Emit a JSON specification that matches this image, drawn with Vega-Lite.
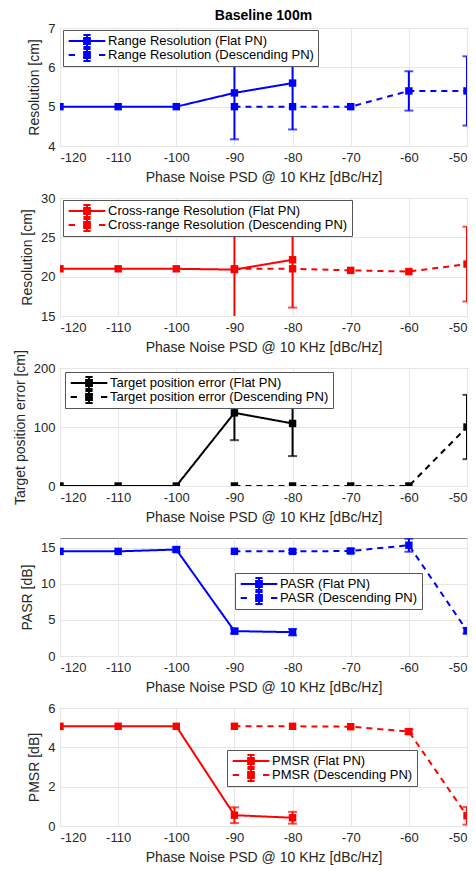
{
  "$schema": "https://vega.github.io/schema/vega-lite/v6.json",
  "padding": {"left": 12, "top": 8, "right": 5, "bottom": 5},
  "title": {"text": "Baseline 100m", "fontSize": 14, "fontWeight": "bold", "font": "Liberation Sans", "color": "#000000", "anchor": "middle", "frame": "group", "offset": -1},
  "config": {
    "view": {"stroke": "#808080", "strokeWidth": 1},
    "axis": {"grid": true, "gridColor": "#e6e6e6", "domain": false, "ticks": false, "labelFont": "Liberation Sans", "labelFontSize": 13, "labelColor": "#262626", "labelPadding": 5, "titleFont": "Liberation Sans", "titleFontSize": 14, "titleFontWeight": "normal", "titleColor": "#262626", "titlePadding": 6},
    "legend": {"title": null, "fillColor": "#ffffff", "strokeColor": "#555555", "padding": 4, "rowPadding": 0, "clipHeight": 14, "symbolSize": 144, "symbolOffset": 13, "labelOffset": 14, "labelFont": "Liberation Sans", "labelFontSize": 13, "labelColor": "#000000", "labelLimit": 400, "symbolOpacity": 1, "symbolStrokeWidth": 2}
  },
  "datasets": {
    "d": [
      {"p": 1, "s": "Flat", "x": -120, "y": 5, "lo": 5, "hi": 5},
      {"p": 1, "s": "Flat", "x": -110, "y": 5, "lo": 5, "hi": 5},
      {"p": 1, "s": "Flat", "x": -100, "y": 5, "lo": 5, "hi": 5},
      {"p": 1, "s": "Flat", "x": -90, "y": 5.35, "lo": 4.17, "hi": 6.53},
      {"p": 1, "s": "Flat", "x": -80, "y": 5.6, "lo": 4.42, "hi": 6.78},
      {"p": 1, "s": "Desc", "x": -90, "y": 5, "lo": 5, "hi": 5},
      {"p": 1, "s": "Desc", "x": -80, "y": 5, "lo": 5, "hi": 5},
      {"p": 1, "s": "Desc", "x": -70, "y": 5, "lo": 5, "hi": 5},
      {"p": 1, "s": "Desc", "x": -60, "y": 5.4, "lo": 4.9, "hi": 5.9},
      {"p": 1, "s": "Desc", "x": -50, "y": 5.4, "lo": 4.52, "hi": 6.28},
      {"p": 2, "s": "Flat", "x": -120, "y": 21, "lo": 21, "hi": 21},
      {"p": 2, "s": "Flat", "x": -110, "y": 21, "lo": 21, "hi": 21},
      {"p": 2, "s": "Flat", "x": -100, "y": 21, "lo": 21, "hi": 21},
      {"p": 2, "s": "Flat", "x": -90, "y": 20.9, "lo": 14.87, "hi": 26.93},
      {"p": 2, "s": "Flat", "x": -80, "y": 22.15, "lo": 16.07, "hi": 28.2},
      {"p": 2, "s": "Desc", "x": -90, "y": 21, "lo": 21, "hi": 21},
      {"p": 2, "s": "Desc", "x": -80, "y": 21, "lo": 21, "hi": 21},
      {"p": 2, "s": "Desc", "x": -70, "y": 20.8, "lo": 20.8, "hi": 20.8},
      {"p": 2, "s": "Desc", "x": -60, "y": 20.65, "lo": 20.65, "hi": 20.65},
      {"p": 2, "s": "Desc", "x": -50, "y": 21.6, "lo": 16.85, "hi": 26.35},
      {"p": 3, "s": "Flat", "x": -120, "y": 0, "lo": 0, "hi": 0},
      {"p": 3, "s": "Flat", "x": -110, "y": 0, "lo": 0, "hi": 0},
      {"p": 3, "s": "Flat", "x": -100, "y": 0, "lo": 0, "hi": 0},
      {"p": 3, "s": "Flat", "x": -90, "y": 124, "lo": 77.7, "hi": 170.3},
      {"p": 3, "s": "Flat", "x": -80, "y": 106, "lo": 50.7, "hi": 161.3},
      {"p": 3, "s": "Desc", "x": -90, "y": 0, "lo": 0, "hi": 0},
      {"p": 3, "s": "Desc", "x": -80, "y": 0, "lo": 0, "hi": 0},
      {"p": 3, "s": "Desc", "x": -70, "y": 0, "lo": 0, "hi": 0},
      {"p": 3, "s": "Desc", "x": -60, "y": 0, "lo": 0, "hi": 0},
      {"p": 3, "s": "Desc", "x": -50, "y": 100, "lo": 45.5, "hi": 154.5},
      {"p": 4, "s": "Flat", "x": -120, "y": 14.5, "lo": 14.5, "hi": 14.5},
      {"p": 4, "s": "Flat", "x": -110, "y": 14.5, "lo": 14.5, "hi": 14.5},
      {"p": 4, "s": "Flat", "x": -100, "y": 14.75, "lo": 14.45, "hi": 15.05},
      {"p": 4, "s": "Flat", "x": -90, "y": 3.45, "lo": 3.1, "hi": 3.8},
      {"p": 4, "s": "Flat", "x": -80, "y": 3.3, "lo": 2.85, "hi": 3.75},
      {"p": 4, "s": "Desc", "x": -90, "y": 14.5, "lo": 14.5, "hi": 14.5},
      {"p": 4, "s": "Desc", "x": -80, "y": 14.5, "lo": 14.3, "hi": 14.7},
      {"p": 4, "s": "Desc", "x": -70, "y": 14.55, "lo": 14.25, "hi": 14.85},
      {"p": 4, "s": "Desc", "x": -60, "y": 15.35, "lo": 14.45, "hi": 16.25},
      {"p": 4, "s": "Desc", "x": -50, "y": 3.5, "lo": 3.1, "hi": 3.9},
      {"p": 5, "s": "Flat", "x": -120, "y": 5.07, "lo": 5.07, "hi": 5.07},
      {"p": 5, "s": "Flat", "x": -110, "y": 5.07, "lo": 5.07, "hi": 5.07},
      {"p": 5, "s": "Flat", "x": -100, "y": 5.07, "lo": 5.07, "hi": 5.07},
      {"p": 5, "s": "Flat", "x": -90, "y": 0.55, "lo": 0.15, "hi": 0.95},
      {"p": 5, "s": "Flat", "x": -80, "y": 0.42, "lo": 0.12, "hi": 0.72},
      {"p": 5, "s": "Desc", "x": -90, "y": 5.07, "lo": 5.07, "hi": 5.07},
      {"p": 5, "s": "Desc", "x": -80, "y": 5.07, "lo": 5.07, "hi": 5.07},
      {"p": 5, "s": "Desc", "x": -70, "y": 5.05, "lo": 5.05, "hi": 5.05},
      {"p": 5, "s": "Desc", "x": -60, "y": 4.8, "lo": 4.68, "hi": 4.92},
      {"p": 5, "s": "Desc", "x": -50, "y": 0.52, "lo": 0.07, "hi": 0.97}
    ]
  },
  "spacing": 52,
  "bounds": "flush",
  "resolve": {"scale": {"shape": "independent", "strokeDash": "independent"}, "legend": {"shape": "independent", "strokeDash": "independent"}},
  "vconcat": [
    {
      "width": 407, "height": 118,
      "data": {"name": "d"},
      "transform": [{"filter": "datum.p == 1"}],
      "encoding": {
        "x": {"field": "x", "type": "quantitative", "title": "Phase Noise PSD @ 10 KHz [dBc/Hz]", "scale": {"domain": [-120, -50], "nice": false}, "axis": {"values": [-120, -110, -100, -90, -80, -70, -60, -50], "labelExpr": "'' + datum.value"}},
        "y": {"field": "y", "type": "quantitative", "title": "Resolution [cm]", "scale": {"domain": [4, 7], "nice": false, "zero": false}, "axis": {"values": [4, 5, 6, 7]}}
      },
      "layer": [
        {"mark": {"type": "line", "strokeWidth": 2, "color": "#0000ff", "clip": true},
         "encoding": {"strokeDash": {"field": "s", "type": "nominal", "scale": {"domain": ["Desc", "Flat"], "range": [[6, 5], [1, 0]]}, "legend": null}}},
        {"transform": [{"filter": "datum.hi > datum.lo"}],
         "mark": {"type": "errorbar", "ticks": {"size": 9}, "thickness": 2, "color": "#0000ff", "clip": true},
         "encoding": {"y": {"field": "lo", "type": "quantitative", "title": "Resolution [cm]", "scale": {"domain": [4, 7], "nice": false, "zero": false}, "axis": {"values": [4, 5, 6, 7]}}, "y2": {"field": "hi"}}},
        {"mark": {"type": "point", "shape": "square", "filled": true, "size": 55, "opacity": 1, "color": "#0000ff", "clip": true}},
        {"transform": [{"filter": "datum.x == -90"}],
         "mark": {"type": "point", "filled": false, "opacity": 0, "color": "#0000ff", "strokeWidth": 2},
         "encoding": {
           "shape": {"field": "s", "type": "nominal", "scale": {"domain": ["Flat", "Desc"], "range": ["M-3.05,0H3.05M-0.65,-0.5H0.65M-0.65,-0.17H0.65M-0.65,0.17H0.65M-0.65,0.5H0.65M0,-1V1M-0.6,-1H0.6M-0.6,1H0.6", "M-3.05,0H-2M2,0H3.05M-0.65,-0.5H0.65M-0.65,-0.17H0.65M-0.65,0.17H0.65M-0.65,0.5H0.65M0,-1V1M-0.6,-1H0.6M-0.6,1H0.6"]},
             "legend": {"orient": "none", "legendX": 3, "legendY": 2, "symbolStrokeColor": "#0000ff", "labelExpr": "datum.label == 'Flat' ? 'Range Resolution (Flat PN)' : 'Range Resolution (Descending PN)'"}}}}
      ]
    },
    {
      "width": 407, "height": 118,
      "data": {"name": "d"},
      "transform": [{"filter": "datum.p == 2"}],
      "encoding": {
        "x": {"field": "x", "type": "quantitative", "title": "Phase Noise PSD @ 10 KHz [dBc/Hz]", "scale": {"domain": [-120, -50], "nice": false}, "axis": {"values": [-120, -110, -100, -90, -80, -70, -60, -50], "labelExpr": "'' + datum.value"}},
        "y": {"field": "y", "type": "quantitative", "title": "Resolution [cm]", "scale": {"domain": [15, 30], "nice": false, "zero": false}, "axis": {"values": [15, 20, 25, 30]}}
      },
      "layer": [
        {"mark": {"type": "line", "strokeWidth": 2, "color": "#ff0000", "clip": true},
         "encoding": {"strokeDash": {"field": "s", "type": "nominal", "scale": {"domain": ["Desc", "Flat"], "range": [[6, 5], [1, 0]]}, "legend": null}}},
        {"transform": [{"filter": "datum.hi > datum.lo"}],
         "mark": {"type": "errorbar", "ticks": {"size": 9}, "thickness": 2, "color": "#ff0000", "clip": true},
         "encoding": {"y": {"field": "lo", "type": "quantitative", "title": "Resolution [cm]", "scale": {"domain": [15, 30], "nice": false, "zero": false}, "axis": {"values": [15, 20, 25, 30]}}, "y2": {"field": "hi"}}},
        {"mark": {"type": "point", "shape": "square", "filled": true, "size": 55, "opacity": 1, "color": "#ff0000", "clip": true}},
        {"transform": [{"filter": "datum.x == -90"}],
         "mark": {"type": "point", "filled": false, "opacity": 0, "color": "#ff0000", "strokeWidth": 2},
         "encoding": {
           "shape": {"field": "s", "type": "nominal", "scale": {"domain": ["Flat", "Desc"], "range": ["M-3.05,0H3.05M-0.65,-0.5H0.65M-0.65,-0.17H0.65M-0.65,0.17H0.65M-0.65,0.5H0.65M0,-1V1M-0.6,-1H0.6M-0.6,1H0.6", "M-3.05,0H-2M2,0H3.05M-0.65,-0.5H0.65M-0.65,-0.17H0.65M-0.65,0.17H0.65M-0.65,0.5H0.65M0,-1V1M-0.6,-1H0.6M-0.6,1H0.6"]},
             "legend": {"orient": "none", "legendX": 3, "legendY": 2, "symbolStrokeColor": "#ff0000", "labelExpr": "datum.label == 'Flat' ? 'Cross-range Resolution (Flat PN)' : 'Cross-range Resolution (Descending PN)'"}}}}
      ]
    },
    {
      "width": 407, "height": 118,
      "data": {"name": "d"},
      "transform": [{"filter": "datum.p == 3"}],
      "encoding": {
        "x": {"field": "x", "type": "quantitative", "title": "Phase Noise PSD @ 10 KHz [dBc/Hz]", "scale": {"domain": [-120, -50], "nice": false}, "axis": {"values": [-120, -110, -100, -90, -80, -70, -60, -50], "labelExpr": "'' + datum.value"}},
        "y": {"field": "y", "type": "quantitative", "title": "Target position error [cm]", "scale": {"domain": [0, 200], "nice": false}, "axis": {"values": [0, 100, 200]}}
      },
      "layer": [
        {"mark": {"type": "line", "strokeWidth": 2, "color": "#000000", "clip": true},
         "encoding": {"strokeDash": {"field": "s", "type": "nominal", "scale": {"domain": ["Desc", "Flat"], "range": [[6, 5], [1, 0]]}, "legend": null}}},
        {"transform": [{"filter": "datum.hi > datum.lo"}],
         "mark": {"type": "errorbar", "ticks": {"size": 9}, "thickness": 2, "color": "#000000", "clip": true},
         "encoding": {"y": {"field": "lo", "type": "quantitative", "title": "Target position error [cm]", "scale": {"domain": [0, 200], "nice": false}, "axis": {"values": [0, 100, 200]}}, "y2": {"field": "hi"}}},
        {"mark": {"type": "point", "shape": "square", "filled": true, "size": 55, "opacity": 1, "color": "#000000", "clip": true}},
        {"transform": [{"filter": "datum.x == -90"}],
         "mark": {"type": "point", "filled": false, "opacity": 0, "color": "#000000", "strokeWidth": 2},
         "encoding": {
           "shape": {"field": "s", "type": "nominal", "scale": {"domain": ["Flat", "Desc"], "range": ["M-3.05,0H3.05M-0.65,-0.5H0.65M-0.65,-0.17H0.65M-0.65,0.17H0.65M-0.65,0.5H0.65M0,-1V1M-0.6,-1H0.6M-0.6,1H0.6", "M-3.05,0H-2M2,0H3.05M-0.65,-0.5H0.65M-0.65,-0.17H0.65M-0.65,0.17H0.65M-0.65,0.5H0.65M0,-1V1M-0.6,-1H0.6M-0.6,1H0.6"]},
             "legend": {"orient": "none", "legendX": 5, "legendY": 4, "symbolStrokeColor": "#000000", "labelExpr": "datum.label == 'Flat' ? 'Target position error (Flat PN)' : 'Target position error (Descending PN)'"}}}}
      ]
    },
    {
      "width": 407, "height": 118,
      "data": {"name": "d"},
      "transform": [{"filter": "datum.p == 4"}],
      "encoding": {
        "x": {"field": "x", "type": "quantitative", "title": "Phase Noise PSD @ 10 KHz [dBc/Hz]", "scale": {"domain": [-120, -50], "nice": false}, "axis": {"values": [-120, -110, -100, -90, -80, -70, -60, -50], "labelExpr": "'' + datum.value"}},
        "y": {"field": "y", "type": "quantitative", "title": "PASR [dB]", "scale": {"domain": [0, 16.35], "nice": false}, "axis": {"values": [0, 5, 10, 15]}}
      },
      "layer": [
        {"mark": {"type": "line", "strokeWidth": 2, "color": "#0000ff", "clip": true},
         "encoding": {"strokeDash": {"field": "s", "type": "nominal", "scale": {"domain": ["Desc", "Flat"], "range": [[6, 5], [1, 0]]}, "legend": null}}},
        {"transform": [{"filter": "datum.hi > datum.lo"}],
         "mark": {"type": "errorbar", "ticks": {"size": 9}, "thickness": 2, "color": "#0000ff", "clip": true},
         "encoding": {"y": {"field": "lo", "type": "quantitative", "title": "PASR [dB]", "scale": {"domain": [0, 16.35], "nice": false}, "axis": {"values": [0, 5, 10, 15]}}, "y2": {"field": "hi"}}},
        {"mark": {"type": "point", "shape": "square", "filled": true, "size": 55, "opacity": 1, "color": "#0000ff", "clip": true}},
        {"transform": [{"filter": "datum.x == -90"}],
         "mark": {"type": "point", "filled": false, "opacity": 0, "color": "#0000ff", "strokeWidth": 2},
         "encoding": {
           "shape": {"field": "s", "type": "nominal", "scale": {"domain": ["Flat", "Desc"], "range": ["M-3.05,0H3.05M-0.65,-0.5H0.65M-0.65,-0.17H0.65M-0.65,0.17H0.65M-0.65,0.5H0.65M0,-1V1M-0.6,-1H0.6M-0.6,1H0.6", "M-3.05,0H-2M2,0H3.05M-0.65,-0.5H0.65M-0.65,-0.17H0.65M-0.65,0.17H0.65M-0.65,0.5H0.65M0,-1V1M-0.6,-1H0.6M-0.6,1H0.6"]},
             "legend": {"orient": "none", "legendX": 175, "legendY": 35, "symbolStrokeColor": "#0000ff", "labelExpr": "datum.label == 'Flat' ? 'PASR (Flat PN)' : 'PASR (Descending PN)'"}}}}
      ]
    },
    {
      "width": 407, "height": 118,
      "data": {"name": "d"},
      "transform": [{"filter": "datum.p == 5"}],
      "encoding": {
        "x": {"field": "x", "type": "quantitative", "title": "Phase Noise PSD @ 10 KHz [dBc/Hz]", "scale": {"domain": [-120, -50], "nice": false}, "axis": {"values": [-120, -110, -100, -90, -80, -70, -60, -50], "labelExpr": "'' + datum.value"}},
        "y": {"field": "y", "type": "quantitative", "title": "PMSR [dB]", "scale": {"domain": [0, 6], "nice": false}, "axis": {"values": [0, 2, 4, 6]}}
      },
      "layer": [
        {"mark": {"type": "line", "strokeWidth": 2, "color": "#ff0000", "clip": true},
         "encoding": {"strokeDash": {"field": "s", "type": "nominal", "scale": {"domain": ["Desc", "Flat"], "range": [[6, 5], [1, 0]]}, "legend": null}}},
        {"transform": [{"filter": "datum.hi > datum.lo"}],
         "mark": {"type": "errorbar", "ticks": {"size": 9}, "thickness": 2, "color": "#ff0000", "clip": true},
         "encoding": {"y": {"field": "lo", "type": "quantitative", "title": "PMSR [dB]", "scale": {"domain": [0, 6], "nice": false}, "axis": {"values": [0, 2, 4, 6]}}, "y2": {"field": "hi"}}},
        {"mark": {"type": "point", "shape": "square", "filled": true, "size": 55, "opacity": 1, "color": "#ff0000", "clip": true}},
        {"transform": [{"filter": "datum.x == -90"}],
         "mark": {"type": "point", "filled": false, "opacity": 0, "color": "#ff0000", "strokeWidth": 2},
         "encoding": {
           "shape": {"field": "s", "type": "nominal", "scale": {"domain": ["Flat", "Desc"], "range": ["M-3.05,0H3.05M-0.65,-0.5H0.65M-0.65,-0.17H0.65M-0.65,0.17H0.65M-0.65,0.5H0.65M0,-1V1M-0.6,-1H0.6M-0.6,1H0.6", "M-3.05,0H-2M2,0H3.05M-0.65,-0.5H0.65M-0.65,-0.17H0.65M-0.65,0.17H0.65M-0.65,0.5H0.65M0,-1V1M-0.6,-1H0.6M-0.6,1H0.6"]},
             "legend": {"orient": "none", "legendX": 167, "legendY": 42, "symbolStrokeColor": "#ff0000", "labelExpr": "datum.label == 'Flat' ? 'PMSR (Flat PN)' : 'PMSR (Descending PN)'"}}}}
      ]
    }
  ]
}
